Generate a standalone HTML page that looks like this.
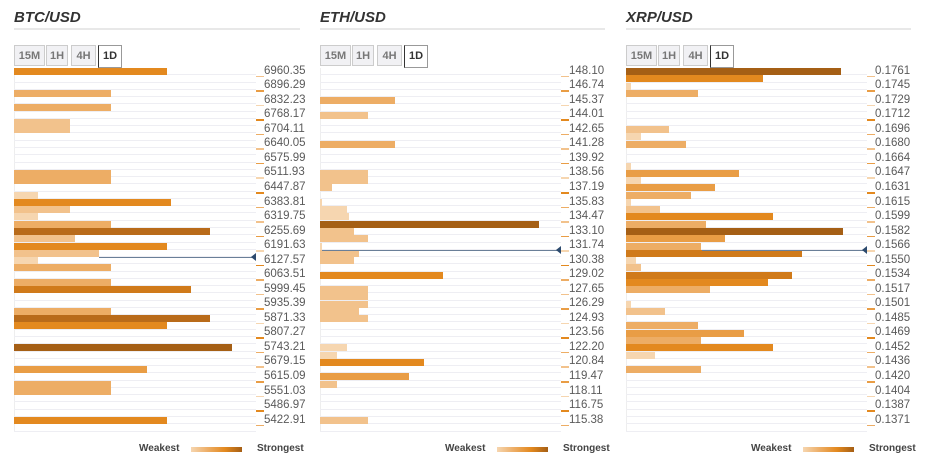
<!DOCTYPE html>
<html><head><meta charset="utf-8"><style>
body{margin:0;width:926px;height:468px;background:#fff;font-family:"Liberation Sans",sans-serif;position:relative;overflow:hidden}
.abs{position:absolute}
.title{font-size:15px;font-weight:bold;font-style:italic;color:#333}
.hr{height:2px;background:#e8e8e8}
.tab{position:absolute;top:45px;height:21px;border:1px solid #ccc;background:#f1f1f4;color:#777;font-size:11px;font-weight:bold;text-align:center;line-height:21px;box-sizing:border-box}
.tab.on{background:#fff;color:#333;border-color:#999;border-left:1px solid #333;height:23px}
.lbl{position:absolute;font-size:11.5px;color:#5a5a5a}
.leg{position:absolute;font-size:10px;font-weight:bold;color:#444}
</style></head><body>
<div id="root"></div>
<script>
var btcLabels=["6960.35","6896.29","6832.23","6768.17","6704.11","6640.05","6575.99","6511.93","6447.87","6383.81","6319.75","6255.69","6191.63","6127.57","6063.51","5999.45","5935.39","5871.33","5807.27","5743.21","5679.15","5615.09","5551.03","5486.97","5422.91"];
var btcRows=[0,3,5,7,8,14,15,17,18,19,20,21,22,23,24,25,26,27,29,30,33,34,35,38,41,43,44,48];
var btcValues=[63,40,40,23,23,40,40,10,65,23,10,40,81,25,63,35,10,40,40,73,40,81,63,90,55,40,40,63];
var btcLevels=[5,3,3,2,2,3,3,1,5,2,1,3,7,2,5,2,1,3,3,6,3,7,5,8,4,3,3,5];
var ethLabels=["148.10","146.74","145.37","144.01","142.65","141.28","139.92","138.56","137.19","135.83","134.47","133.10","131.74","130.38","129.02","127.65","126.29","124.93","123.56","122.20","120.84","119.47","118.11","116.75","115.38"];
var ethRows=[4,6,10,14,15,16,18,19,20,21,22,23,24,25,26,28,30,31,32,33,34,38,39,40,42,43,48];
var ethValues=[31,20,31,20,20,5,1,11,12,91,14,20,1,16,14,51,20,20,20,16,20,11,7,43,37,7,20];
var ethLevels=[3,2,3,2,2,2,1,1,1,8,2,2,1,2,2,5,2,2,2,2,2,1,1,5,4,2,2];
var xrpLabels=["0.1761","0.1745","0.1729","0.1712","0.1696","0.1680","0.1664","0.1647","0.1631","0.1615","0.1599","0.1582","0.1566","0.1550","0.1534","0.1517","0.1501","0.1485","0.1469","0.1452","0.1436","0.1420","0.1404","0.1387","0.1371"];
var xrpRows=[0,1,2,3,8,9,10,13,14,15,16,17,18,19,20,21,22,23,24,25,26,27,28,29,30,32,33,35,36,37,38,39,41];
var xrpValues=[89,57,2,30,18,6,25,2,47,6,37,27,2,14,61,33,90,41,31,73,4,6,69,59,35,2,16,30,49,31,61,12,31];
var xrpLevels=[8,5,1,3,2,1,3,1,4,1,4,3,1,2,5,3,8,4,3,6,1,2,6,5,3,1,2,3,4,3,5,1,3];
var colors=["#f6d6b0","#f2c28c","#edad65","#e99d45","#e3891f","#d07a1a","#b96b1a","#a55f15"];
var tickCols=["#f2c28c","#e99d45","#f6d6b0","#e3891f","#edad65"];
var panels=[
 {name:"btc",title:"BTC/USD",x0:14,w:242,labels:btcLabels,rows:btcRows,vals:btcValues,lv:btcLevels,price:257,px:99},
 {name:"eth",title:"ETH/USD",x0:320,w:241,labels:ethLabels,rows:ethRows,vals:ethValues,lv:ethLevels,price:250,px:322},
 {name:"xrp",title:"XRP/USD",x0:626,w:241,labels:xrpLabels,rows:xrpRows,vals:xrpValues,lv:xrpLevels,price:250,px:702}
];
var Y0=68,RH=7.27,NR=50;
function yRow(r){return Y0+r*RH;}
var root=document.getElementById('root');
function mk(parent,cls,css,txt){var d=document.createElement('div');d.className=cls;d.style.cssText=css;if(txt!=null)d.textContent=txt;parent.appendChild(d);return d;}
panels.forEach(function(p){
 var t=mk(root,'abs title','left:'+p.x0+'px;top:9px;',p.title);
 
 
 var hr=mk(root,'abs hr','left:'+p.x0+'px;top:28px;width:'+(p.w+44)+'px;');
 
 
 var tabs=[["15M",0,31],["1H",32,22],["4H",57,25],["1D",84,24]];
 tabs.forEach(function(tb,i){
  var d=mk(root,'tab'+(i==3?' on':''),'left:'+(p.x0+tb[1])+'px;width:'+tb[2]+'px;',tb[0]);
  
  
 });
 var area=mk(root,'abs','left:'+p.x0+'px;top:'+Y0+'px;width:'+p.w+'px;height:'+(NR*RH)+'px;border-left:1px solid #eee;box-sizing:border-box;');
 
 
 for(var r=1;r<=NR;r++){
  var ln=mk(root,'abs','left:'+p.x0+'px;top:'+(yRow(r)-1).toFixed(1)+'px;width:'+p.w+'px;height:1px;background:#eeeef3;');
  
  
 }
 p.rows.forEach(function(r,i){
  var b=mk(root,'abs','left:'+p.x0+'px;top:'+yRow(r).toFixed(1)+'px;width:'+(p.vals[i]/100*p.w).toFixed(1)+'px;height:'+(RH-0.3).toFixed(1)+'px;background:'+colors[p.lv[i]-1]+';');
  
  
 });
 p.labels.forEach(function(l,k){
  var y=yRow(2*k)+RH/2;
  var tk=mk(root,'abs','left:'+(p.x0+p.w)+'px;top:'+(y+4).toFixed(1)+'px;width:8px;height:1.5px;background:'+tickCols[k%5]+';');
  
  
  var lb=mk(root,'lbl','left:'+(p.x0+p.w+8)+'px;top:'+(y-7).toFixed(1)+'px;',l);
  
  
 });
 var pl=mk(root,'abs','left:'+p.px+'px;top:'+p.price+'px;width:'+(p.x0+p.w-p.px)+'px;height:1px;background:#6a7f98;');
 
 
 var ar=mk(root,'abs','left:'+(p.x0+p.w-5)+'px;top:'+(p.price-4)+'px;width:0;height:0;border-top:4px solid transparent;border-bottom:4px solid transparent;border-right:5px solid #2c4a6e;');
 
 
 var lw=mk(root,'leg','left:'+(p.x0+125)+'px;top:443px;','Weakest');
 
 
 var gr=mk(root,'abs','left:'+(p.x0+177)+'px;top:447px;width:51px;height:5px;background:linear-gradient(to right,#f6d6b0,#edad65,#e3891f,#a55f15);');
 
 
 var ls=mk(root,'leg','left:'+(p.x0+243)+'px;top:443px;','Strongest');
 
 
});
</script>
</body></html>
